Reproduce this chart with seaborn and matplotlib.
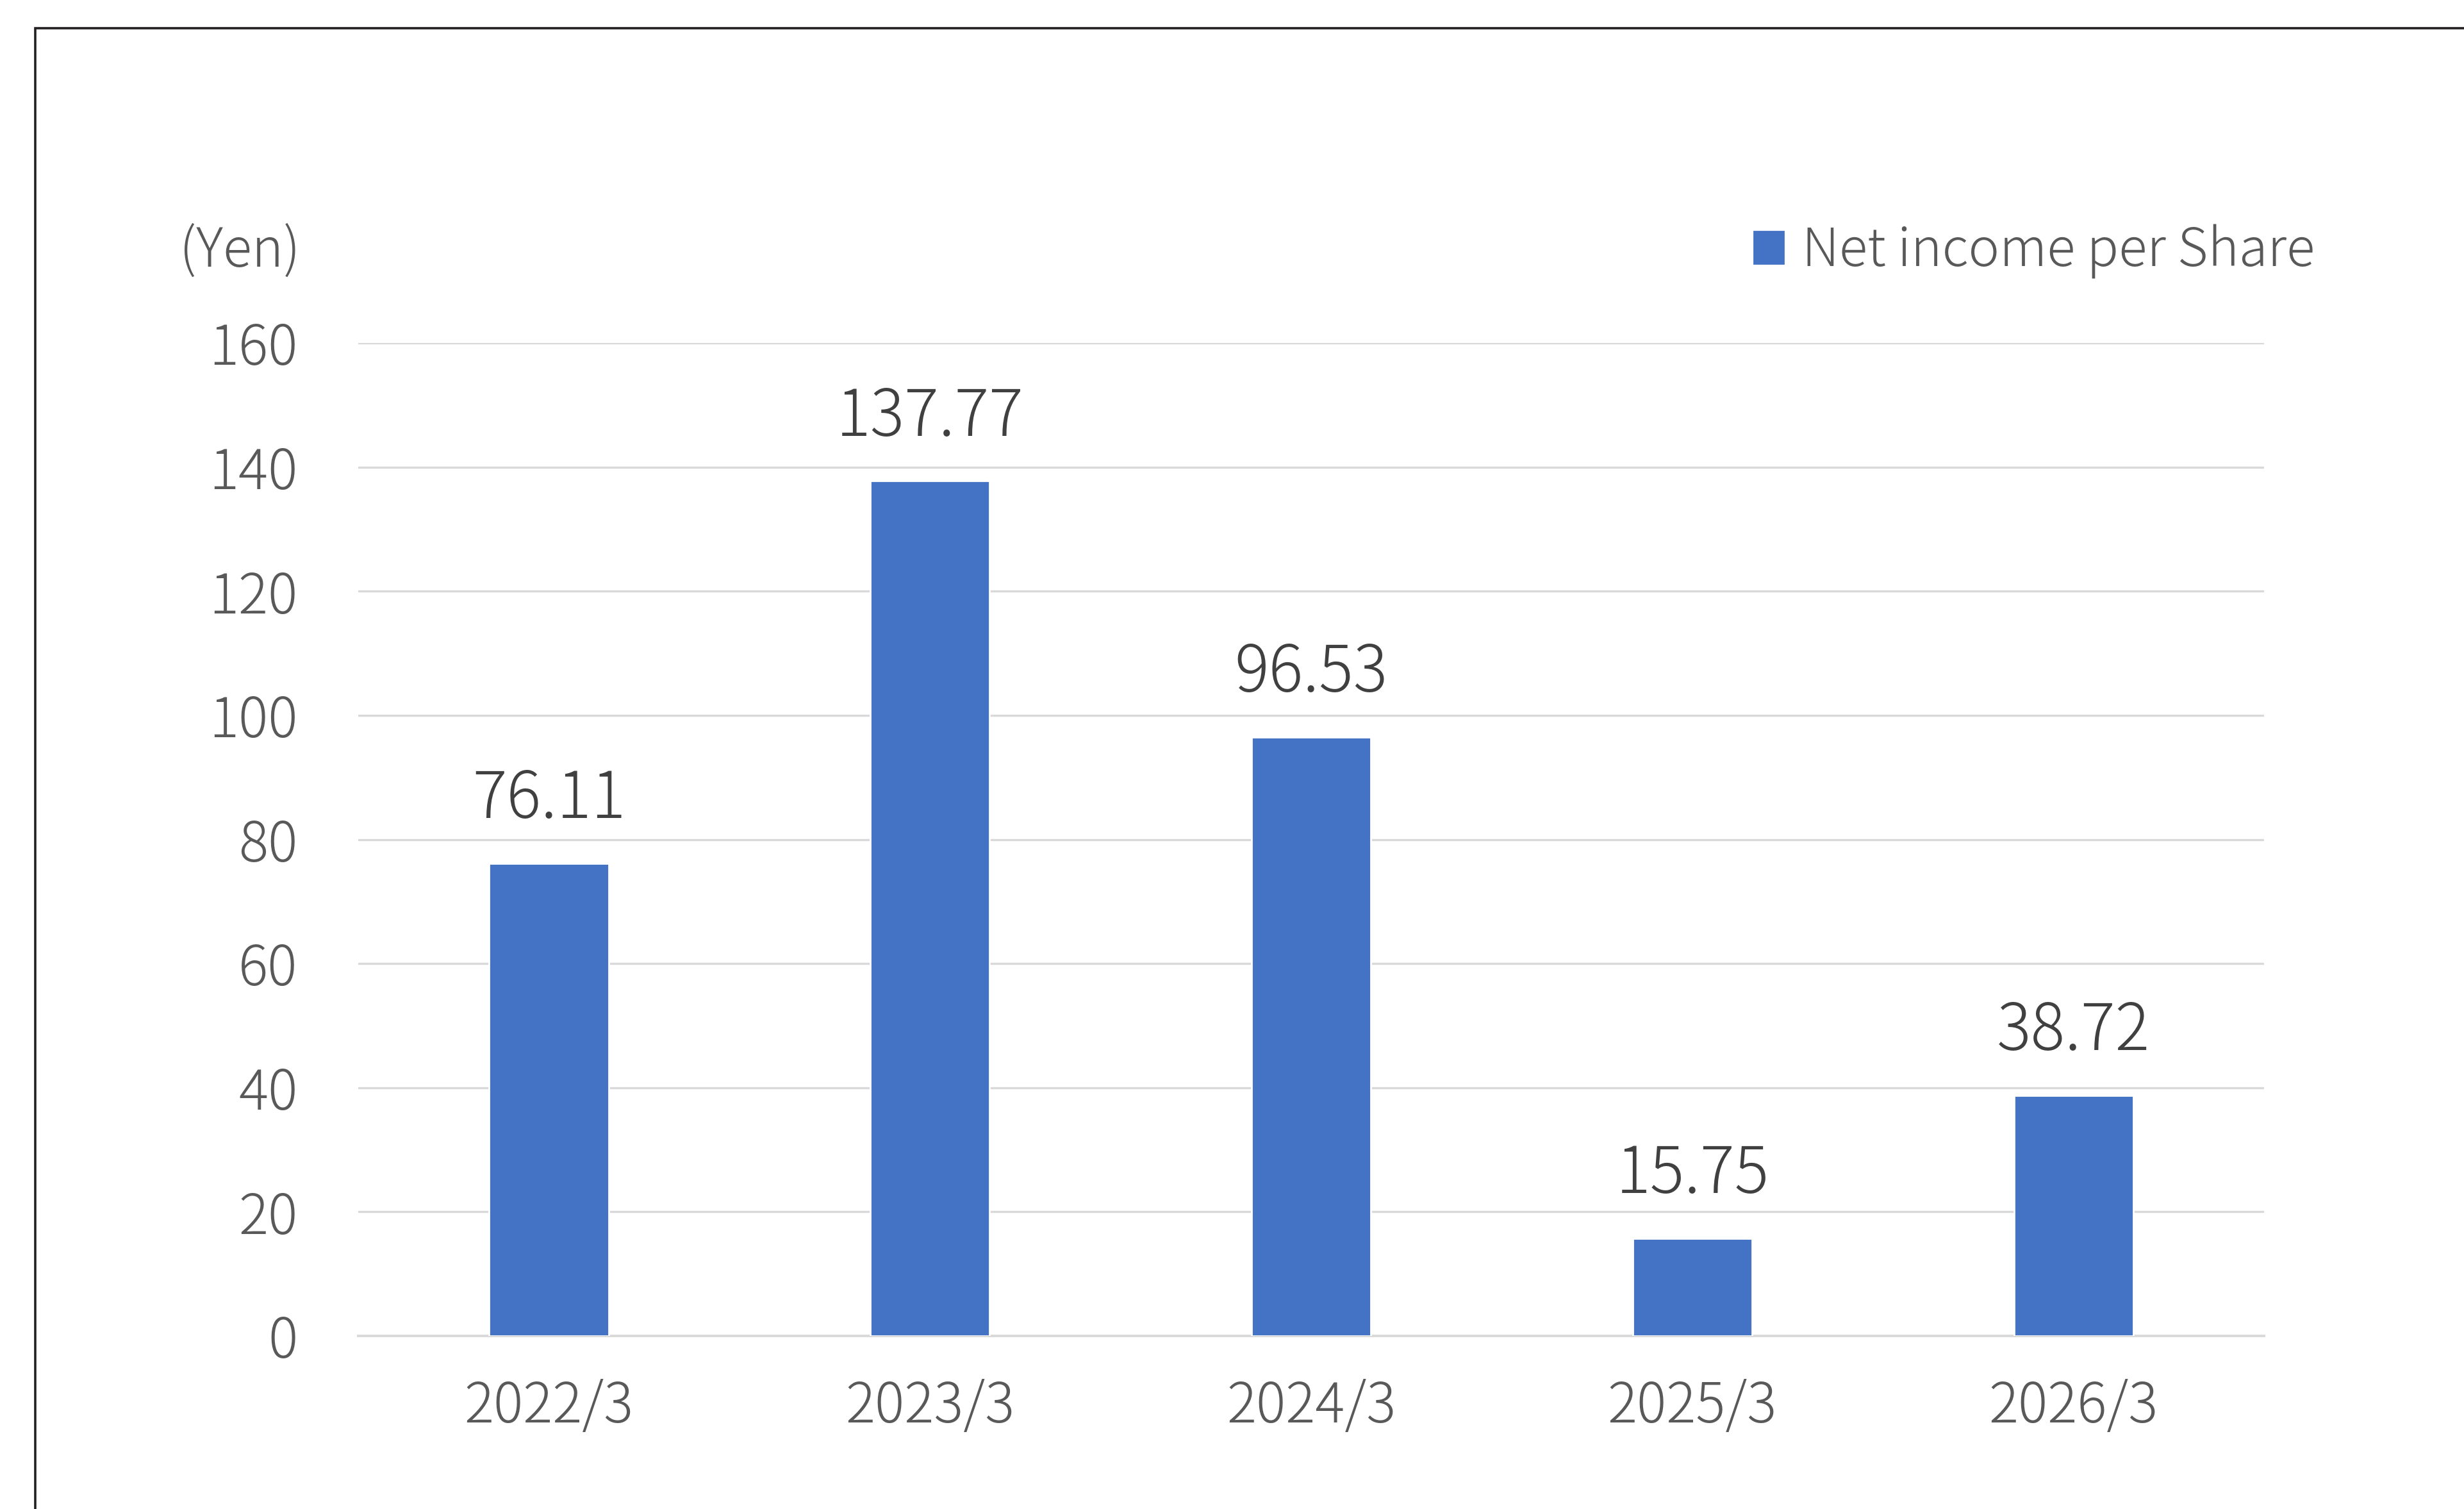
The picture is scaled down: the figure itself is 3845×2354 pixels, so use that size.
import matplotlib
matplotlib.use("Agg")
import matplotlib.pyplot as plt
import matplotlib.patches as mpatches
import pandas as pd
import seaborn as sns

years = ["2022/3", "2023/3", "2024/3", "2025/3", "2026/3"]
eps = [76.11, 137.77, 96.53, 15.75, 38.72]
y_ticks = [0, 20, 40, 60, 80, 100, 120, 140, 160]
series_name = "Net income per Share"
unit_label = "(Yen)"

bar_color = "#4472c4"
tick_color = "#595959"
label_color = "#404040"
grid_color = "#d9d9d9"

df = pd.DataFrame({"Year": years, "EPS": eps})

sns.set_theme(style="white")
plt.rcParams["font.family"] = ["Noto Sans CJK JP", "DejaVu Sans"]
plt.rcParams["font.weight"] = "light"

fig = plt.figure(figsize=(19.225, 11.77), dpi=200)
ax = fig.add_axes([0.1454, 0.1147, 0.9189 - 0.1454, 0.7727 - 0.1147])

sns.barplot(data=df, x="Year", y="EPS", color=bar_color, saturation=1,
            width=0.313, ax=ax, zorder=3)

ax.set_ylim(0, 160)
ax.set_xlim(-0.5, len(years) - 0.5)
ax.set_yticks(y_ticks)
ax.yaxis.grid(True, color=grid_color, linewidth=1.2, zorder=0)
ax.xaxis.grid(False)
for s in ["top", "right", "left"]:
    ax.spines[s].set_visible(False)
ax.spines["bottom"].set_color(grid_color)
ax.spines["bottom"].set_linewidth(1.4)
ax.tick_params(axis="both", length=0, colors=tick_color, labelsize=31)
ax.tick_params(axis="y", pad=34)
ax.tick_params(axis="x", pad=24)
ax.set_xlabel("")
ax.set_ylabel("")

ax.bar_label(ax.containers[0], fmt="%.2f", padding=17, fontsize=36,
             color=label_color)

fig.text(0.1218, 0.8333, unit_label, ha="right", va="center",
         fontsize=30, color=tick_color)

handle = mpatches.Patch(color=bar_color, label=series_name)
fig.legend(handles=[handle], loc="center right", bbox_to_anchor=(0.9586, 0.8333),
           frameon=False, fontsize=29.5, labelcolor=tick_color,
           handlelength=0.56, handleheight=0.56, handletextpad=0.35)

# outer frame (extends past the right/bottom edges)
frame = mpatches.Rectangle((0.0143, -0.2), 1.2, 0.2 + 0.9813, transform=fig.transFigure,
                           fill=False, edgecolor="#231f20", linewidth=1.3)
fig.patches.append(frame)

fig.savefig("out.png", dpi=200, facecolor="white")
